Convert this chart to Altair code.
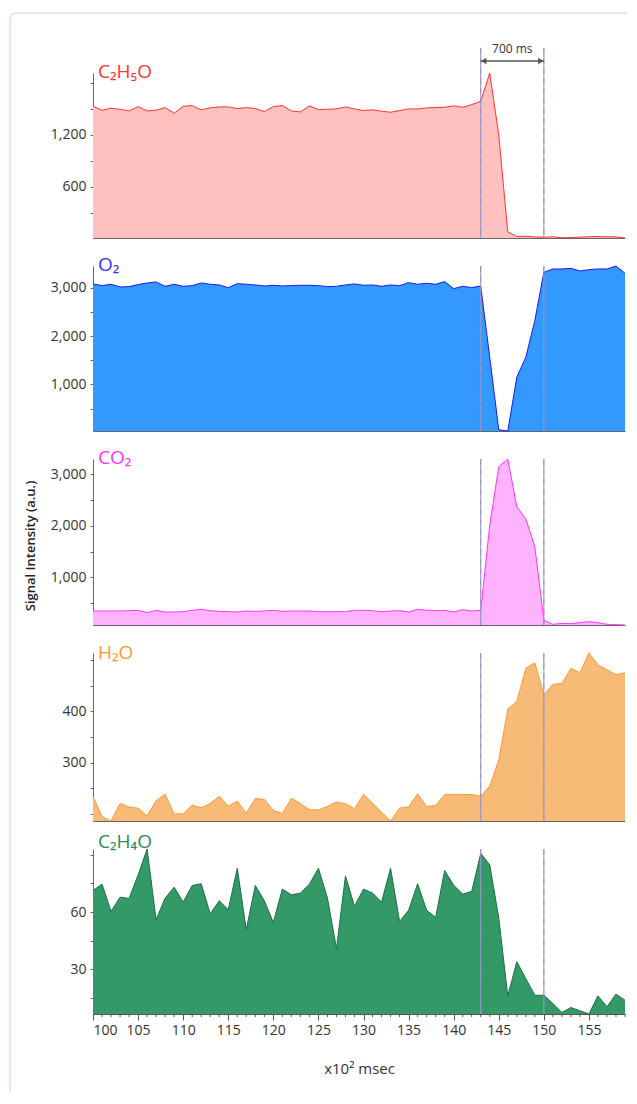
import json
import pandas as pd
import altair as alt

# ---------------- data ----------------
time = list(range(100, 160))

c2h5o = [1531, 1485, 1508, 1496, 1477, 1527, 1477, 1485, 1515, 1450,
         1531, 1538, 1489, 1512, 1523, 1523, 1504, 1515, 1504, 1469,
         1527, 1538, 1477, 1465, 1535, 1492, 1496, 1500, 1523, 1500,
         1481, 1489, 1473, 1462, 1481, 1500, 1500, 1512, 1515, 1519,
         1535, 1519, 1550, 1588, 1915, 1196, 80, 25, 28, 20,
         18, 22, 10, 14, 18, 22, 25, 22, 22, 8]

o2 = [3084, 3049, 3077, 3021, 3028, 3070, 3104, 3125, 3035, 3077,
      3035, 3049, 3104, 3077, 3063, 3008, 3090, 3077, 3063, 3042,
      3056, 3042, 3049, 3056, 3056, 3049, 3028, 3035, 3063, 3084,
      3056, 3063, 3035, 3063, 3049, 3111, 3077, 3097, 3077, 3132,
      2987, 3035, 3008, 3042, 1563, 61, 34, 1152, 1565, 2325,
      3325, 3394, 3394, 3408, 3353, 3380, 3394, 3394, 3456, 3305]

co2 = [347, 347, 347, 347, 353, 360, 315, 360, 327, 327,
       334, 360, 379, 353, 340, 334, 327, 347, 340, 347,
       360, 340, 347, 347, 347, 334, 334, 334, 334, 360,
       360, 353, 334, 347, 353, 327, 379, 360, 353, 360,
       327, 373, 347, 360, 2017, 3149, 3298, 2372, 2133, 1596,
       172, 88, 107, 101, 120, 140, 120, 88, 82, 75]

h2o = [233.7, 194.6, 186.0, 220.4, 213.1, 211.1, 195.9, 225.7, 238.3, 199.9,
       199.9, 217.1, 211.8, 220.4, 234.3, 215.1, 225.0, 201.2, 229.7, 228.4,
       206.8, 200.5, 230.3, 220.4, 207.8, 207.8, 214.4, 223.1, 219.8, 209.8,
       238.3, 221.0, 203.0, 186.0, 211.1, 213.8, 239.0, 214.4, 216.4, 237.6,
       237.6, 237.6, 237.6, 234.3, 254.2, 305.2, 404.6, 419.2, 484.2, 494.8,
       432.4, 453.0, 454.3, 484.2, 475.5, 514.0, 490.8, 481.5, 471.6, 475.5]

c2h4o = [71.3, 74.6, 60.3, 67.8, 67.1, 79.4, 93.0, 56.0, 67.3, 73.0,
         65.2, 73.9, 74.8, 59.1, 65.9, 61.2, 82.9, 50.8, 73.9, 65.9,
         54.5, 72.0, 69.0, 69.9, 74.6, 82.9, 67.3, 40.9, 78.9, 63.0,
         72.0, 69.9, 65.2, 82.9, 55.1, 60.9, 74.8, 60.9, 57.2, 81.7,
         74.0, 69.4, 70.8, 90.7, 84.7, 56.9, 16.1, 34.0, 25.1, 16.4,
         16.4, 12.1, 7.4, 10.0, 8.3, 6.6, 16.1, 10.4, 17.0, 13.8]

series_names = ["C₂H₅O", "O₂", "CO₂", "H₂O", "C₂H₄O"]
event_times = [143, 150]
span_label = "700 ms"
x_title = "x10² msec"
y_title = "Signal Intensity (a.u.)"

x_major = list(range(100, 160, 5))
x_minor = [v for v in range(100, 160) if v % 5 != 0]
y_ticks = [
    [300, 600, 900, 1200, 1500, 1800],
    [500, 1000, 1500, 2000, 2500, 3000],
    [500, 1000, 1500, 2000, 2500, 3000],
    [200, 250, 300, 350, 400, 450, 500],
    [15, 30, 45, 60, 75, 90],
]
y_labeled = [
    [600, 1200],
    [1000, 2000, 3000],
    [1000, 2000, 3000],
    [300, 400],
    [30, 60],
]

# ---------------- styles ----------------
FONT = "Open Sans"
fills = ["#ffc0c0", "#3399ff", "#ffb3ff", "#f8bb77", "#339966"]
lines = ["#ff3333", "#1a1aee", "#ff33ff", "#ff9933", "#1e6e46"]
title_colors = ["#ff3333", "#3333ff", "#ff33ff", "#ff9933", "#2e8b57"]
label_y = [5, 5, 5, 6, -1]
heights = [165, 165, 166, 168, 165]
W = 532
BORDER = "#c2d3ef"

series = [c2h5o, o2, co2, h2o, c2h4o]
df = pd.DataFrame({"t": time})
for k, s in enumerate(series):
    df[f"s{k}"] = s

ev_df = pd.DataFrame({"t": event_times})
minor_df = pd.DataFrame({"t": x_minor})
ann_df = pd.DataFrame({
    "start": [event_times[0]],
    "end": [event_times[1]],
    "mid": [(event_times[0] + event_times[1]) / 2],
    "label": [span_label],
})


def y_axis(k):
    expr = "indexof(%s, datum.value) >= 0 ? format(datum.value, ',') : ''" % json.dumps(y_labeled[k])
    return alt.Axis(values=y_ticks[k], labelExpr=expr, grid=False, tickSize=3,
                    domainColor="#666", tickColor="#666", labelColor="#333",
                    labelFontSize=14, labelFont=FONT, labelPadding=4,
                    labelOverlap=False, title=None)


def x_axis(last):
    if last:
        return alt.Axis(values=x_major, tickSize=6,
                        grid=False, domainColor="#555", tickColor="#555",
                        labelColor="#333", labelFontSize=14, labelFont=FONT,
                        labelPadding=3, labelOverlap=False,
                        title=x_title, titleFont=FONT, titleFontSize=15,
                        titleFontWeight="normal", titleColor="#333", titlePadding=24)
    return alt.Axis(labels=False, ticks=False, grid=False, domainColor="#666", title=None)


def panel(k):
    h = heights[k]
    last = k == len(series) - 1
    xscale = alt.Scale(domain=[time[0], time[-1]], nice=False, zero=False)
    xax = x_axis(last)

    def X(field):
        return alt.X(f"{field}:Q", scale=xscale, axis=xax, title=x_title if last else None)

    area = alt.Chart(df).mark_area(
        color=fills[k], opacity=1,
        line={"color": lines[k], "strokeWidth": 1},
    ).encode(
        x=X("t"),
        y=alt.Y(f"s{k}:Q", scale=alt.Scale(zero=False, nice=False), axis=y_axis(k), stack=None),
    )
    ev = alt.Chart(ev_df)
    if k == 0:
        yenc = dict(y=alt.value(-25), y2=alt.value(h))
    else:
        yenc = {}
    rule_b = ev.mark_rule(color="#8c8cff", strokeWidth=1).encode(x=X("t"), **yenc)
    rule_g = ev.mark_rule(color="#9a9a9a", strokeWidth=1, strokeDash=[6, 4]).encode(x=X("t"), **yenc)
    lbl = alt.Chart(pd.DataFrame({"name": [series_names[k]]})).mark_text(
        align="left", baseline="alphabetic", fontSize=19, font=FONT, color=title_colors[k]
    ).encode(text="name:N", x=alt.value(5), y=alt.value(label_y[k]))
    layers = [area, rule_b, rule_g, lbl]

    if last:
        minor = alt.Chart(minor_df).mark_rule(color="#555", strokeWidth=1).encode(
            x=X("t"), y=alt.value(h), y2=alt.value(h + 3))
        layers.append(minor)

    if k == 0:
        ann = alt.Chart(ann_df)
        arrow = ann.mark_rule(color="#555", strokeWidth=1.5).encode(
            x=X("start"), x2="end:Q", y=alt.value(-12))
        head_l = ann.mark_point(shape="triangle-left", filled=True, size=40, color="#555",
                                opacity=1, xOffset=3).encode(x=X("start"), y=alt.value(-12))
        head_r = ann.mark_point(shape="triangle-right", filled=True, size=40, color="#555",
                                opacity=1, xOffset=-3).encode(x=X("end"), y=alt.value(-12))
        txt = ann.mark_text(fontSize=12, font=FONT, color="#333", baseline="middle").encode(
            x=X("mid"), y=alt.value(-24), text="label:N")
        one = alt.Chart(pd.DataFrame({"a": [0]}))
        b_top = one.mark_rule(color=BORDER, strokeWidth=1).encode(
            x=alt.value(-77), x2=alt.value(534), y=alt.value(-60))
        b_left = one.mark_rule(color=BORDER, strokeWidth=1).encode(
            x=alt.value(-83), y=alt.value(-54), y2=alt.value(1020))
        b_corner = one.mark_arc(color=BORDER, radius=6.5, radius2=5.5,
                                theta=4.712389, theta2=6.283185).encode(
            x=alt.value(-77), y=alt.value(-54))
        layers += [arrow, head_l, head_r, txt, b_top, b_left, b_corner]

    if k == 2:
        yt = alt.Chart(pd.DataFrame({"t": [y_title]})).mark_text(
            angle=270, fontSize=13, fontWeight=600, font=FONT, color="#222",
            align="center", baseline="middle"
        ).encode(text="t:N", x=alt.value(-62), y=alt.value(87))
        layers.append(yt)

    return alt.layer(*layers).properties(width=W, height=h)


chart = alt.vconcat(*[panel(k) for k in range(len(series))], spacing=28, bounds="flush").properties(
    padding={"left": 1, "top": 4, "right": 0, "bottom": 0}
).configure(font=FONT).configure_view(strokeWidth=0, stroke="transparent")

chart.save("out.html", embed_options={"renderer": "svg", "actions": False})
